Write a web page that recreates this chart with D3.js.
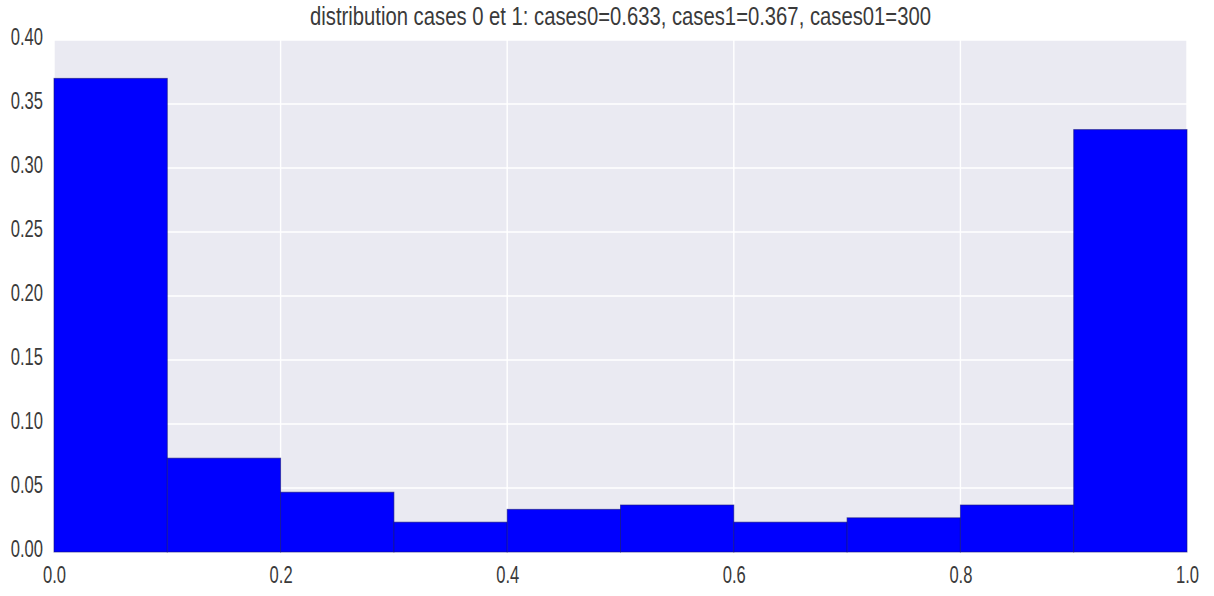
<!DOCTYPE html>
<html>
<head>
<meta charset="utf-8">
<script src="https://cdn.jsdelivr.net/npm/d3@7"></script>
<style>
  html, body { margin: 0; padding: 0; background: #ffffff; }
  svg text { font-family: "Liberation Sans", Arial, sans-serif; fill: #3a3a3a; }
</style>
</head>
<body>
<svg id="chart" width="1214" height="596"></svg>
<script>
// Histogram bins (left edges, width 0.1) and their normalised frequencies
const binStarts = [0.0, 0.1, 0.2, 0.3, 0.4, 0.5, 0.6, 0.7, 0.8, 0.9];
const binWidth = 0.1;
const frequencies = [0.37, 0.0733, 0.0467, 0.0233, 0.0333, 0.0367, 0.0233, 0.0267, 0.0367, 0.33];
const xTicks = [0.0, 0.2, 0.4, 0.6, 0.8, 1.0];
const yTicks = [0.00, 0.05, 0.10, 0.15, 0.20, 0.25, 0.30, 0.35, 0.40];
const titleText = "distribution cases 0 et 1: cases0=0.633, cases1=0.367, cases01=300";

const W = 1214, H = 596;
const margin = { top: 40, right: 27, bottom: 44, left: 54 };
const svg = d3.select("#chart");

const x = d3.scaleLinear().domain([0, 1]).range([margin.left, W - margin.right]);
const y = d3.scaleLinear().domain([0, 0.4]).range([H - margin.bottom, margin.top]);

// squeeze text horizontally to a condensed look
function condense(sel, factor) {
  sel.each(function () {
    const len = this.getComputedTextLength();
    d3.select(this)
      .attr("textLength", len * factor)
      .attr("lengthAdjust", "spacingAndGlyphs");
  });
}

// plot background
svg.append("rect")
  .attr("x", x(0)).attr("y", y(0.4))
  .attr("width", x(1) - x(0)).attr("height", y(0) - y(0.4))
  .attr("fill", "#eaeaf2");

// white grid lines
const grid = svg.append("g");
grid.selectAll("line.h").data(yTicks).join("line")
  .attr("x1", x(0)).attr("x2", x(1))
  .attr("y1", d => y(d)).attr("y2", d => y(d))
  .attr("stroke", "#ffffff").attr("stroke-width", 1.4);
grid.selectAll("line.v").data(xTicks).join("line")
  .attr("y1", y(0)).attr("y2", y(0.4))
  .attr("x1", d => x(d)).attr("x2", d => x(d))
  .attr("stroke", "#ffffff").attr("stroke-width", 1.4);

// bars
svg.append("g").selectAll("rect").data(binStarts).join("rect")
  .attr("x", d => x(d))
  .attr("y", (d, i) => y(frequencies[i]))
  .attr("width", d => x(d + binWidth) - x(d))
  .attr("height", (d, i) => y(0) - y(frequencies[i]))
  .attr("fill", "#0000ff")
  .attr("stroke", "#10107a")
  .attr("stroke-opacity", 0.6)
  .attr("stroke-width", 1);

// axes (labels only, no domain lines or tick marks)
const xAxis = d3.axisBottom(x).tickValues(xTicks).tickFormat(d3.format(".1f")).tickSize(0).tickPadding(15);
const yAxis = d3.axisLeft(y).tickValues(yTicks).tickFormat(d3.format(".2f")).tickSize(0).tickPadding(11);

const gx = svg.append("g").attr("transform", `translate(0,${y(0)})`).call(xAxis);
const gy = svg.append("g").attr("transform", `translate(${x(0)},0)`).call(yAxis);
[gx, gy].forEach(g => {
  g.select(".domain").remove();
  g.selectAll("text").style("font-size", "23px").attr("fill", "#3a3a3a");
  condense(g.selectAll("text"), 0.72);
});
gy.selectAll("text").attr("dy", "0.2em");

// title
svg.append("text")
  .attr("x", (x(0) + x(1)) / 2)
  .attr("y", 25)
  .attr("text-anchor", "middle")
  .style("font-size", "25px")
  .text(titleText)
  .call(condense, 0.81);
</script>
</body>
</html>
